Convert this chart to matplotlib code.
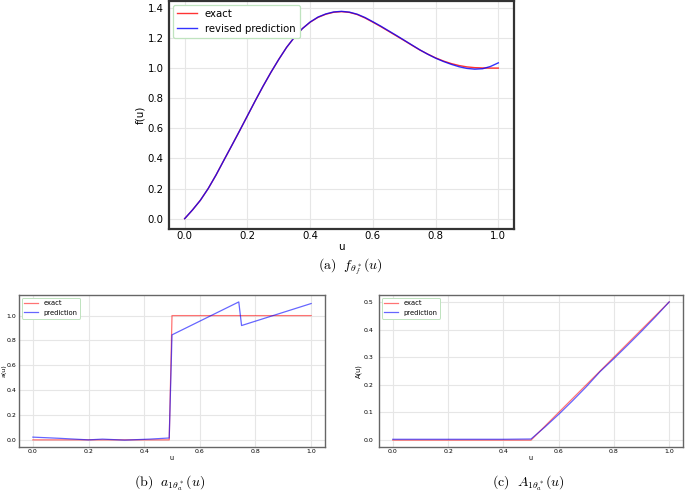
import numpy as np
import matplotlib
matplotlib.use("Agg")
import matplotlib.pyplot as plt

plt.rcParams['mathtext.fontset'] = 'cm'
plt.rcParams['font.family'] = 'DejaVu Sans'

#%% DATA
# (a) f(u)
u_f = [0.000, 0.025, 0.050, 0.075, 0.100, 0.125, 0.150, 0.175, 0.200, 0.225,
       0.250, 0.275, 0.300, 0.325, 0.350, 0.375, 0.400, 0.425, 0.450, 0.475,
       0.500, 0.525, 0.550, 0.575, 0.600, 0.625, 0.650, 0.675, 0.700, 0.725,
       0.750, 0.775, 0.800, 0.825, 0.850, 0.875, 0.900, 0.925, 0.950, 0.975,
       1.000]
f_exact = [0.000, 0.058, 0.122, 0.200, 0.290, 0.388, 0.485, 0.583, 0.683, 0.783,
           0.880, 0.972, 1.058, 1.138, 1.205, 1.262, 1.305, 1.337, 1.358, 1.371,
           1.375, 1.370, 1.356, 1.333, 1.305, 1.276, 1.245, 1.214, 1.183, 1.151,
           1.120, 1.093, 1.068, 1.047, 1.030, 1.017, 1.008, 1.003, 1.001, 1.000,
           1.000]
f_pred = [0.000, 0.058, 0.122, 0.200, 0.290, 0.388, 0.485, 0.583, 0.683, 0.783,
          0.880, 0.972, 1.058, 1.138, 1.205, 1.262, 1.306, 1.339, 1.360, 1.373,
          1.377, 1.372, 1.358, 1.336, 1.308, 1.279, 1.248, 1.217, 1.185, 1.153,
          1.121, 1.092, 1.066, 1.044, 1.025, 1.009, 0.998, 0.993, 0.996, 1.011,
          1.035]

# (b) a(u)
u_a_exact = [0.0, 0.49, 0.5, 1.0]
a_exact = [0.0, 0.0, 1.0, 1.0]
u_a_pred = [0.0, 0.1, 0.2, 0.25, 0.33, 0.42, 0.49, 0.50, 0.74, 0.75, 1.0]
a_pred = [0.022, 0.012, 0.0, 0.006, -0.002, 0.006, 0.015, 0.845, 1.11, 0.92, 1.097]

# (c) A(u)
u_A_exact = [0.0, 0.5, 1.0]
A_exact = [0.0, 0.0, 0.5]
u_A_pred = [0.0, 0.1, 0.2, 0.3, 0.4, 0.5, 0.55, 0.6, 0.65, 0.7, 0.75,
            0.8, 0.85, 0.9, 0.95, 1.0]
A_pred = [0.003, 0.003, 0.003, 0.003, 0.003, 0.004, 0.047, 0.093, 0.142, 0.193, 0.248,
          0.295, 0.344, 0.394, 0.446, 0.500]

captions = [r'$\mathrm{(a)}\ \ f_{\theta^*_f}(u)$',
            r'$\mathrm{(b)}\ \ a_{1\theta^*_a}(u)$',
            r'$\mathrm{(c)}\ \ A_{1\theta^*_a}(u)$']

#%% FIGURE
fig = plt.figure(figsize=(6.85, 4.94), dpi=100)

def style_axes(ax, fs, spine_c, spine_w, xpad, ypad):
    ax.grid(True, color='#e6e6e6', linewidth=0.8)
    ax.set_axisbelow(True)
    for s in ax.spines.values():
        s.set_color(spine_c)
        s.set_linewidth(spine_w)
    ax.tick_params(axis='both', length=0, labelsize=fs)
    ax.tick_params(axis='x', pad=xpad)
    ax.tick_params(axis='y', pad=ypad)

def style_legend(leg, lw):
    frame = leg.get_frame()
    frame.set_edgecolor('#bfe3bf')
    frame.set_linewidth(lw)
    frame.set_alpha(1.0)

# (a)
ax1 = fig.add_axes([0.2467, 0.5364, 0.5037, 0.4616])
ax1.plot(u_f, f_exact, color='red', alpha=0.8, lw=1.0, label='exact')
ax1.plot(u_f, f_pred, color='blue', alpha=0.8, lw=1.0, label='revised prediction')
style_axes(ax1, 7.3, '#333333', 1.6, 1.5, 4)
ax1.set_xticks(np.arange(0, 1.01, 0.2))
ax1.set_yticks(np.arange(0, 1.41, 0.2))
ax1.set_xlabel('u', fontsize=7.5, labelpad=1)
ax1.set_ylabel('f(u)', fontsize=7.5, labelpad=2)
ax1.yaxis.set_label_coords(-0.07, 0.5)
leg = ax1.legend(loc='upper left', fontsize=7.3, borderaxespad=0.35, fancybox=True)
style_legend(leg, 0.9)
fig.text(0.511, 0.46, captions[0], ha='center', va='center', fontsize=10)

# (b)
ax2 = fig.add_axes([0.0277, 0.0951, 0.4468, 0.3077])
ax2.plot(u_a_exact, a_exact, color='red', alpha=0.55, lw=0.9, label='exact')
ax2.plot(u_a_pred, a_pred, color='blue', alpha=0.6, lw=0.9, label='prediction')
style_axes(ax2, 4.5, '#666666', 1.0, 1.5, 2)
ax2.set_xticks(np.arange(0, 1.01, 0.2))
ax2.set_yticks(np.arange(0, 1.01, 0.2))
ax2.set_xlabel('u', fontsize=4.8, labelpad=1)
ax2.set_ylabel('a(u)', fontsize=4.6)
ax2.yaxis.set_label_coords(-0.04, 0.5)
leg = ax2.legend(loc='upper left', fontsize=4.9, borderaxespad=0.4, fancybox=True)
style_legend(leg, 0.7)
fig.text(0.247, 0.022, captions[1], ha='center', va='center', fontsize=10)

# (c)
ax3 = fig.add_axes([0.5533, 0.0951, 0.4438, 0.3077])
ax3.plot(u_A_exact, A_exact, color='red', alpha=0.55, lw=0.9, label='exact')
ax3.plot(u_A_pred, A_pred, color='blue', alpha=0.6, lw=0.9, label='prediction')
style_axes(ax3, 4.5, '#666666', 1.0, 1.5, 4)
ax3.set_xticks(np.arange(0, 1.01, 0.2))
ax3.set_yticks(np.arange(0, 0.51, 0.1))
ax3.set_xlabel('u', fontsize=4.8, labelpad=1)
ax3.set_ylabel('A(u)', fontsize=4.8, labelpad=1)
leg = ax3.legend(loc='upper left', fontsize=4.9, borderaxespad=0.4, fancybox=True)
style_legend(leg, 0.7)
fig.text(0.771, 0.022, captions[2], ha='center', va='center', fontsize=10)

fig.savefig('out.png', dpi=100)
